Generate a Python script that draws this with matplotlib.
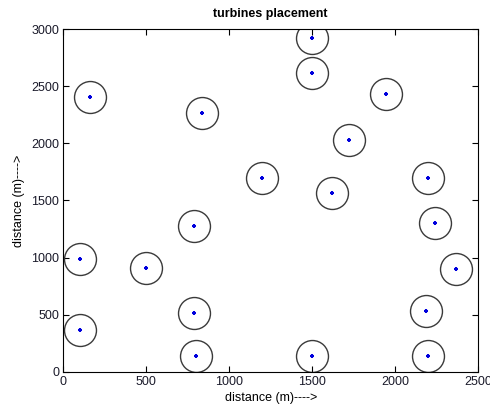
import matplotlib
matplotlib.use("Agg")
import matplotlib.pyplot as plt

plt.rcParams['font.family'] = ['Liberation Sans', 'DejaVu Sans']

x_pos = [161, 834, 1500, 1500, 1942, 1721, 1195, 2199, 1620, 789, 100, 500, 100, 789, 799, 1500, 2197, 2183, 2367, 2241]
y_pos = [2410, 2265, 2922, 2615, 2431, 2028, 1695, 1695, 1563, 1274, 985, 906, 363, 512, 137, 137, 137, 529, 897, 1300]

fig = plt.figure(figsize=(4.9, 4.11), dpi=100)
ax = fig.add_axes([0.129, 0.0956, 0.847, 0.8334])

ax.plot(x_pos, y_pos, linestyle='none', marker='o', markersize=23,
        markerfacecolor='none', markeredgecolor='#3a3a3a', markeredgewidth=1.0)
ax.plot(x_pos, y_pos, linestyle='none', marker='+', markersize=3.5,
        markeredgecolor='#0000dd', markeredgewidth=1.5)

ax.set_xlim(0, 2500)
ax.set_ylim(0, 3000)
ax.set_xticks([0, 500, 1000, 1500, 2000, 2500])
ax.set_yticks([0, 500, 1000, 1500, 2000, 2500, 3000])
ax.tick_params(direction='in', top=True, right=True, labelsize=9, length=4, width=0.8, pad=3,
               labelcolor='#1a1a2a')
for s in ax.spines.values():
    s.set_linewidth(0.8)

ax.set_title('turbines placement', fontsize=9, fontweight='bold', pad=9)
ax.set_xlabel('distance (m)---->', fontsize=9, labelpad=3)
ax.set_ylabel('distance (m)---->', fontsize=9, labelpad=4)

fig.savefig('out.png', dpi=100)
